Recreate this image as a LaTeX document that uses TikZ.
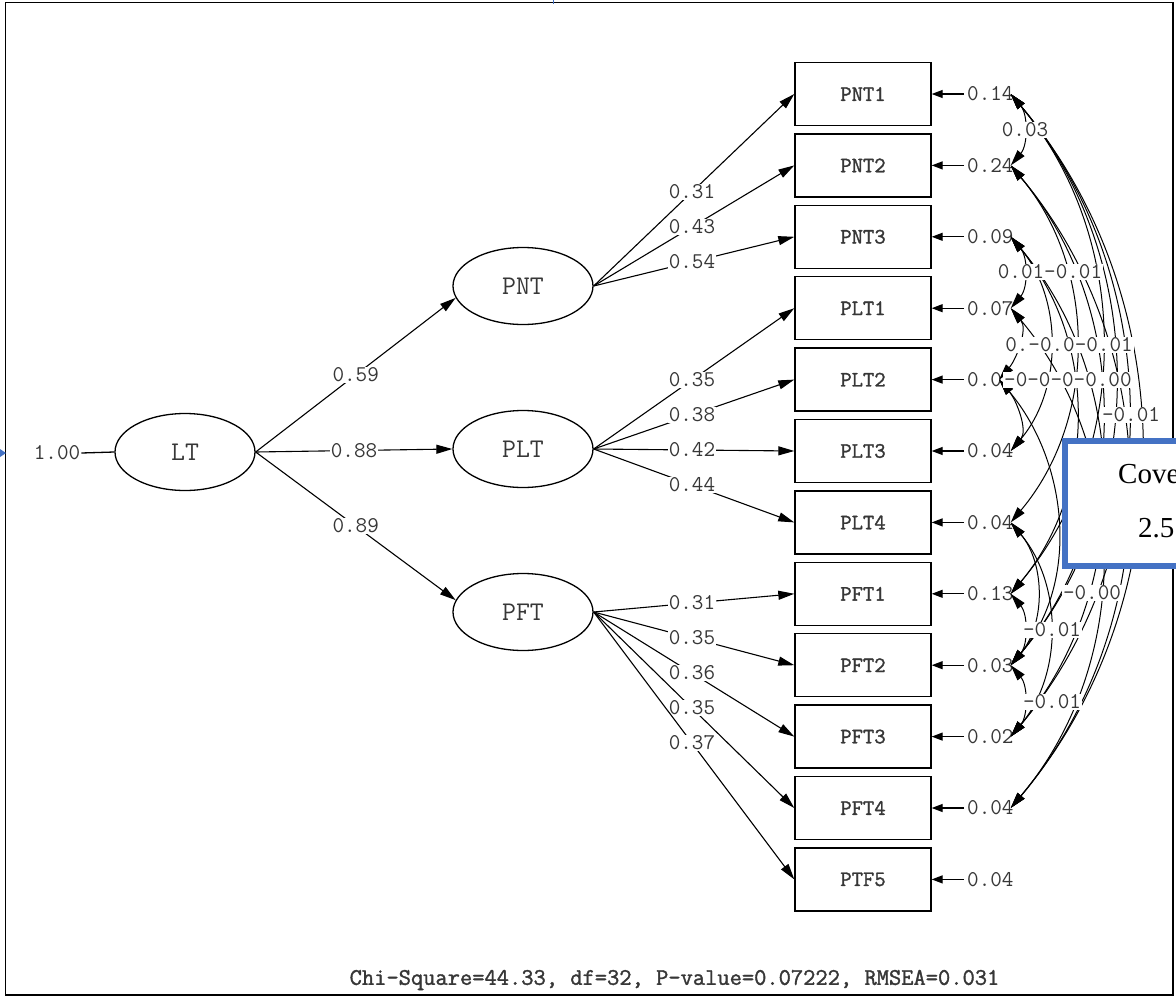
\documentclass[tikz,border=0pt]{standalone}
\usepackage{fontspec}
\usetikzlibrary{shapes.geometric,arrows.meta}
\newfontfamily\lis{Latin Modern Mono}
\newfontfamily\lisb{Latin Modern Mono}[FakeBold=1.5]
\newfontfamily\tms{Liberation Serif}
\definecolor{bluebox}{RGB}{68,114,196}
\definecolor{txt}{RGB}{55,55,55}
\tikzset{
  lbl/.style={font=\lis\fontsize{22.5}{22.5}\selectfont, text=txt, inner sep=1pt, fill=white},
  errl/.style={font=\lis\fontsize{22.5}{22.5}\selectfont, text=txt, inner sep=0pt, anchor=west},
  obsbox/.style={draw, line width=1.4pt, minimum width=136pt, minimum height=63pt,
    font=\lisb\fontsize{22}{22}\selectfont, text=txt},
  lat/.style={draw, ellipse, line width=1.3pt, minimum width=140pt, minimum height=77pt,
    inner sep=0pt, font=\lis\fontsize{27}{27}\selectfont, text=txt},
  pth/.style={line width=1.1pt, -{Triangle[length=16pt,width=9pt]}},
  errarr/.style={line width=1.3pt, -{Triangle[length=11pt,width=8pt]}},
  cov/.style={line width=1pt, {Triangle[length=16pt,width=9pt]}-{Triangle[length=16pt,width=9pt]}},
}
\begin{document}
\begin{tikzpicture}[x=1pt,y=-1pt]
\path[use as bounding box] (0,0) rectangle (1176,996);
\clip (0,0) rectangle (1176,996);
\fill[white] (0,0) rectangle (1176,996);
% frame
\draw[line width=1.6pt] (5.5,2.5) rectangle (1173,995);
\draw[bluebox, line width=1pt] (553,0) -- (553,4);
\fill[bluebox] (0,449) -- (6,453) -- (0,457) -- cycle;

% observed variables and error labels
\foreach \i/\t/\e in {1/PNT1/0.14, 2/PNT2/0.24, 3/PNT3/0.09, 4/PLT1/0.07, 5/PLT2/0.0,
  6/PLT3/0.04, 7/PLT4/0.04, 8/PFT1/0.13, 9/PFT2/0.03, 10/PFT3/0.02, 11/PFT4/0.04, 12/PTF5/0.04}{
  \pgfmathsetmacro\yy{94+71.4*(\i-1)}
  \node[obsbox] (b\i) at (863,\yy) {\t};
  \node[errl] (r\i) at (967,\yy) {\e};
  \draw[errarr] ([xshift=-3pt]r\i.west) -- (b\i.east);
  \coordinate (e\i) at ([xshift=-3pt]r\i.east);
}

% latent variables
\node[lat] (LT) at (185,452) {LT};
\node[lat] (PNT) at (523,286) {PNT};
\node[lat] (PLT) at (523,449) {PLT};
\node[lat] (PFT) at (523,612) {PFT};

\node[font=\lis\fontsize{22.5}{22.5}\selectfont, text=txt, inner sep=1pt] (one) at (57,453) {1.00};
\draw[line width=1.3pt] (one.east) -- (LT.west);

\draw[pth] (LT.east) -- node[lbl]{0.59} (PNT.190);
\draw[pth] (LT.east) -- node[lbl]{0.88} (PLT.west);
\draw[pth] (LT.east) -- node[lbl]{0.89} (PFT.170);

\foreach \i/\v in {1/0.31,2/0.43,3/0.54}
  \draw[pth] (PNT.east) -- node[lbl,pos=0.49]{\v} (b\i.west);
\foreach \i/\v in {4/0.35,5/0.38,6/0.42,7/0.44}
  \draw[pth] (PLT.east) -- node[lbl,pos=0.49]{\v} (b\i.west);
\foreach \i/\v in {8/0.31,9/0.35,10/0.36,11/0.35,12/0.37}
  \draw[pth] (PFT.east) -- node[lbl,pos=0.49]{\v} (b\i.west);

% error covariances
\foreach \a/\b in {1/2,1/8,1/9,1/10,1/11,2/7,2/9,2/11,3/4,3/6,3/8,3/10,4/5,4/11,5/6,5/9,7/9,7/10,8/9,9/10}{
  \pgfmathsetmacro\c{0.243*71.4*(\b-\a)}
  \pgfmathsetmacro\s{0.289*71.4*(\b-\a)}
  \draw[cov] (e\a) .. controls +(\c,\s) and +(\c,-\s) .. (e\b);
}
\node[lbl] (l1) at (1025,130) {0.03};
\node[lbl] (l2) at (1050,272) {0.01-0.01};
\node[lbl] (l3) at (1069,345) {0.-0.0-0.01};
\node[lbl, anchor=west] (l4) at (1003,380) {-0-0-0-0.00};
\node[lbl] (l5) at (1131,415) {-0.01};
\node[lbl] (l6) at (1092,593) {-0.00};
\node[lbl] (l7) at (1052,630) {-0.01};
\node[lbl] (l8) at (1052,702) {-0.01};

% overlay box
\draw[bluebox, line width=6pt, fill=white] (1065,441) rectangle (1210,566);
\node[font=\tms\fontsize{29}{29}\selectfont, anchor=base west, inner sep=0pt] (cv) at (1118,483) {Cove};
\node[font=\tms\fontsize{29}{29}\selectfont, anchor=base west, inner sep=0pt] (tv) at (1138,537) {2.5};

% fit statistics
\node[font=\lisb\fontsize{23.8}{23.8}\selectfont, text=txt, inner sep=0pt] (fit) at (674.5,980)
  {Chi-Square=44.33, df=32, P-value=0.07222, RMSEA=0.031};
\end{tikzpicture}
\end{document}
